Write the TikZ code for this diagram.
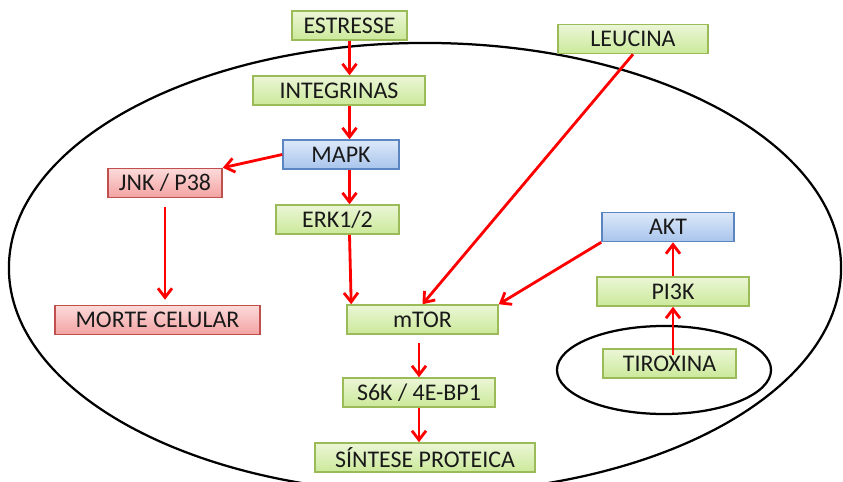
\documentclass[tikz,border=0pt]{standalone}
\usepackage{fontspec}
\setmainfont{Carlito}
\usetikzlibrary{arrows.meta}
\definecolor{verdeborda}{HTML}{9BBB59}
\definecolor{verdeclaro}{HTML}{EBF6D6}
\definecolor{verdefundo}{HTML}{CBE99A}
\definecolor{azulborda}{HTML}{5B85C0}
\definecolor{azulclaro}{HTML}{DDE9F9}
\definecolor{azulfundo}{HTML}{A8C4EC}
\definecolor{vermborda}{HTML}{C0504D}
\definecolor{vermclaro}{HTML}{FCDADA}
\definecolor{vermfundo}{HTML}{F3A2A2}

\begin{document}
\begin{tikzpicture}[x=0.025cm,y=-0.025cm,
  caixa/.style={line width=1.1pt, minimum height=0.725cm, inner sep=0pt, text=black!90, font=\fontsize{17}{20}\selectfont},
  verde/.style={caixa, draw=verdeborda, top color=verdeclaro, bottom color=verdefundo},
  azul/.style={caixa, draw=azulborda, top color=azulclaro, bottom color=azulfundo},
  vermelho/.style={caixa, draw=vermborda, top color=vermclaro, bottom color=vermfundo},
  seta/.style={red, line width=2pt, -{Straight Barb[length=6.5pt,width=10pt]}},
  membrana/.style={black, line width=1.6pt}]
  \useasboundingbox (0,0) rectangle (843,481);
  \draw[membrana] (425,268) ellipse [x radius=10.4cm, y radius=5.625cm];
  \draw[membrana] (664,370) ellipse [x radius=2.675cm, y radius=1.1cm];

  \node[verde, minimum width=2.875cm] (estresse) at (349.5,25.5) {ESTRESSE};
  \node[verde, minimum width=4.3cm] (integrinas) at (339,90.5) {INTEGRINAS};
  \node[azul, minimum width=2.9cm] (mapk) at (341,154.5) {MAPK};
  \node[vermelho, minimum width=2.85cm] (jnk) at (165,183) {JNK / P38};
  \node[verde, minimum width=3.075cm] (erk) at (337.5,219.5) {ERK1/2};
  \node[vermelho, minimum width=5.125cm] (morte) at (157.5,320) {MORTE CELULAR};
  \node[verde, minimum width=3.775cm] (mtor) at (422.5,319.5) {mTOR};
  \node[verde, minimum width=3.8cm] (s6k) at (419,392.5) {S6K / 4E-BP1};
  \node[verde, minimum width=5.5cm] (sintese) at (425,457.5) {SÍNTESE PROTEICA};
  \node[verde, minimum width=3.75cm] (leucina) at (633,39) {LEUCINA};
  \node[azul, minimum width=3.3cm] (akt) at (668,227) {AKT};
  \node[verde, minimum width=3.8cm] (pi3k) at (673,291.5) {PI3K};
  \node[verde, minimum width=3.325cm] (tiroxina) at (669.5,363.5) {TIROXINA};

  \draw[seta] (estresse.south) -- (estresse.south |- integrinas.north);
  \draw[seta] (integrinas.south -| estresse.south) -- (mapk.north -| estresse.south);
  \draw[seta] (mapk.south -| estresse.south) -- (erk.north -| estresse.south);
  \draw[seta] (mapk.west) -- (jnk.north east);
  \draw[seta, shorten <=0.225cm, shorten >=0.125cm] (jnk.south) -- (jnk.south |- morte.north);
  \draw[seta] (erk.south -| estresse.south) -- ([xshift=0.125cm]mtor.north west);
  \draw[seta] (leucina.south) -- (mtor.north);
  \draw[seta] (akt.south west) -- (mtor.north east);
  \draw[seta, shorten <=0.2cm] (s6k.north |- mtor.south) -- (s6k.north);
  \draw[seta] (s6k.south) -- (s6k.south |- sintese.north);
  \draw[seta] (pi3k.north) -- (pi3k.north |- akt.south);
  \draw[seta, shorten <=-0.175cm] (pi3k.south |- tiroxina.north) -- (pi3k.south);
\end{tikzpicture}
\end{document}
